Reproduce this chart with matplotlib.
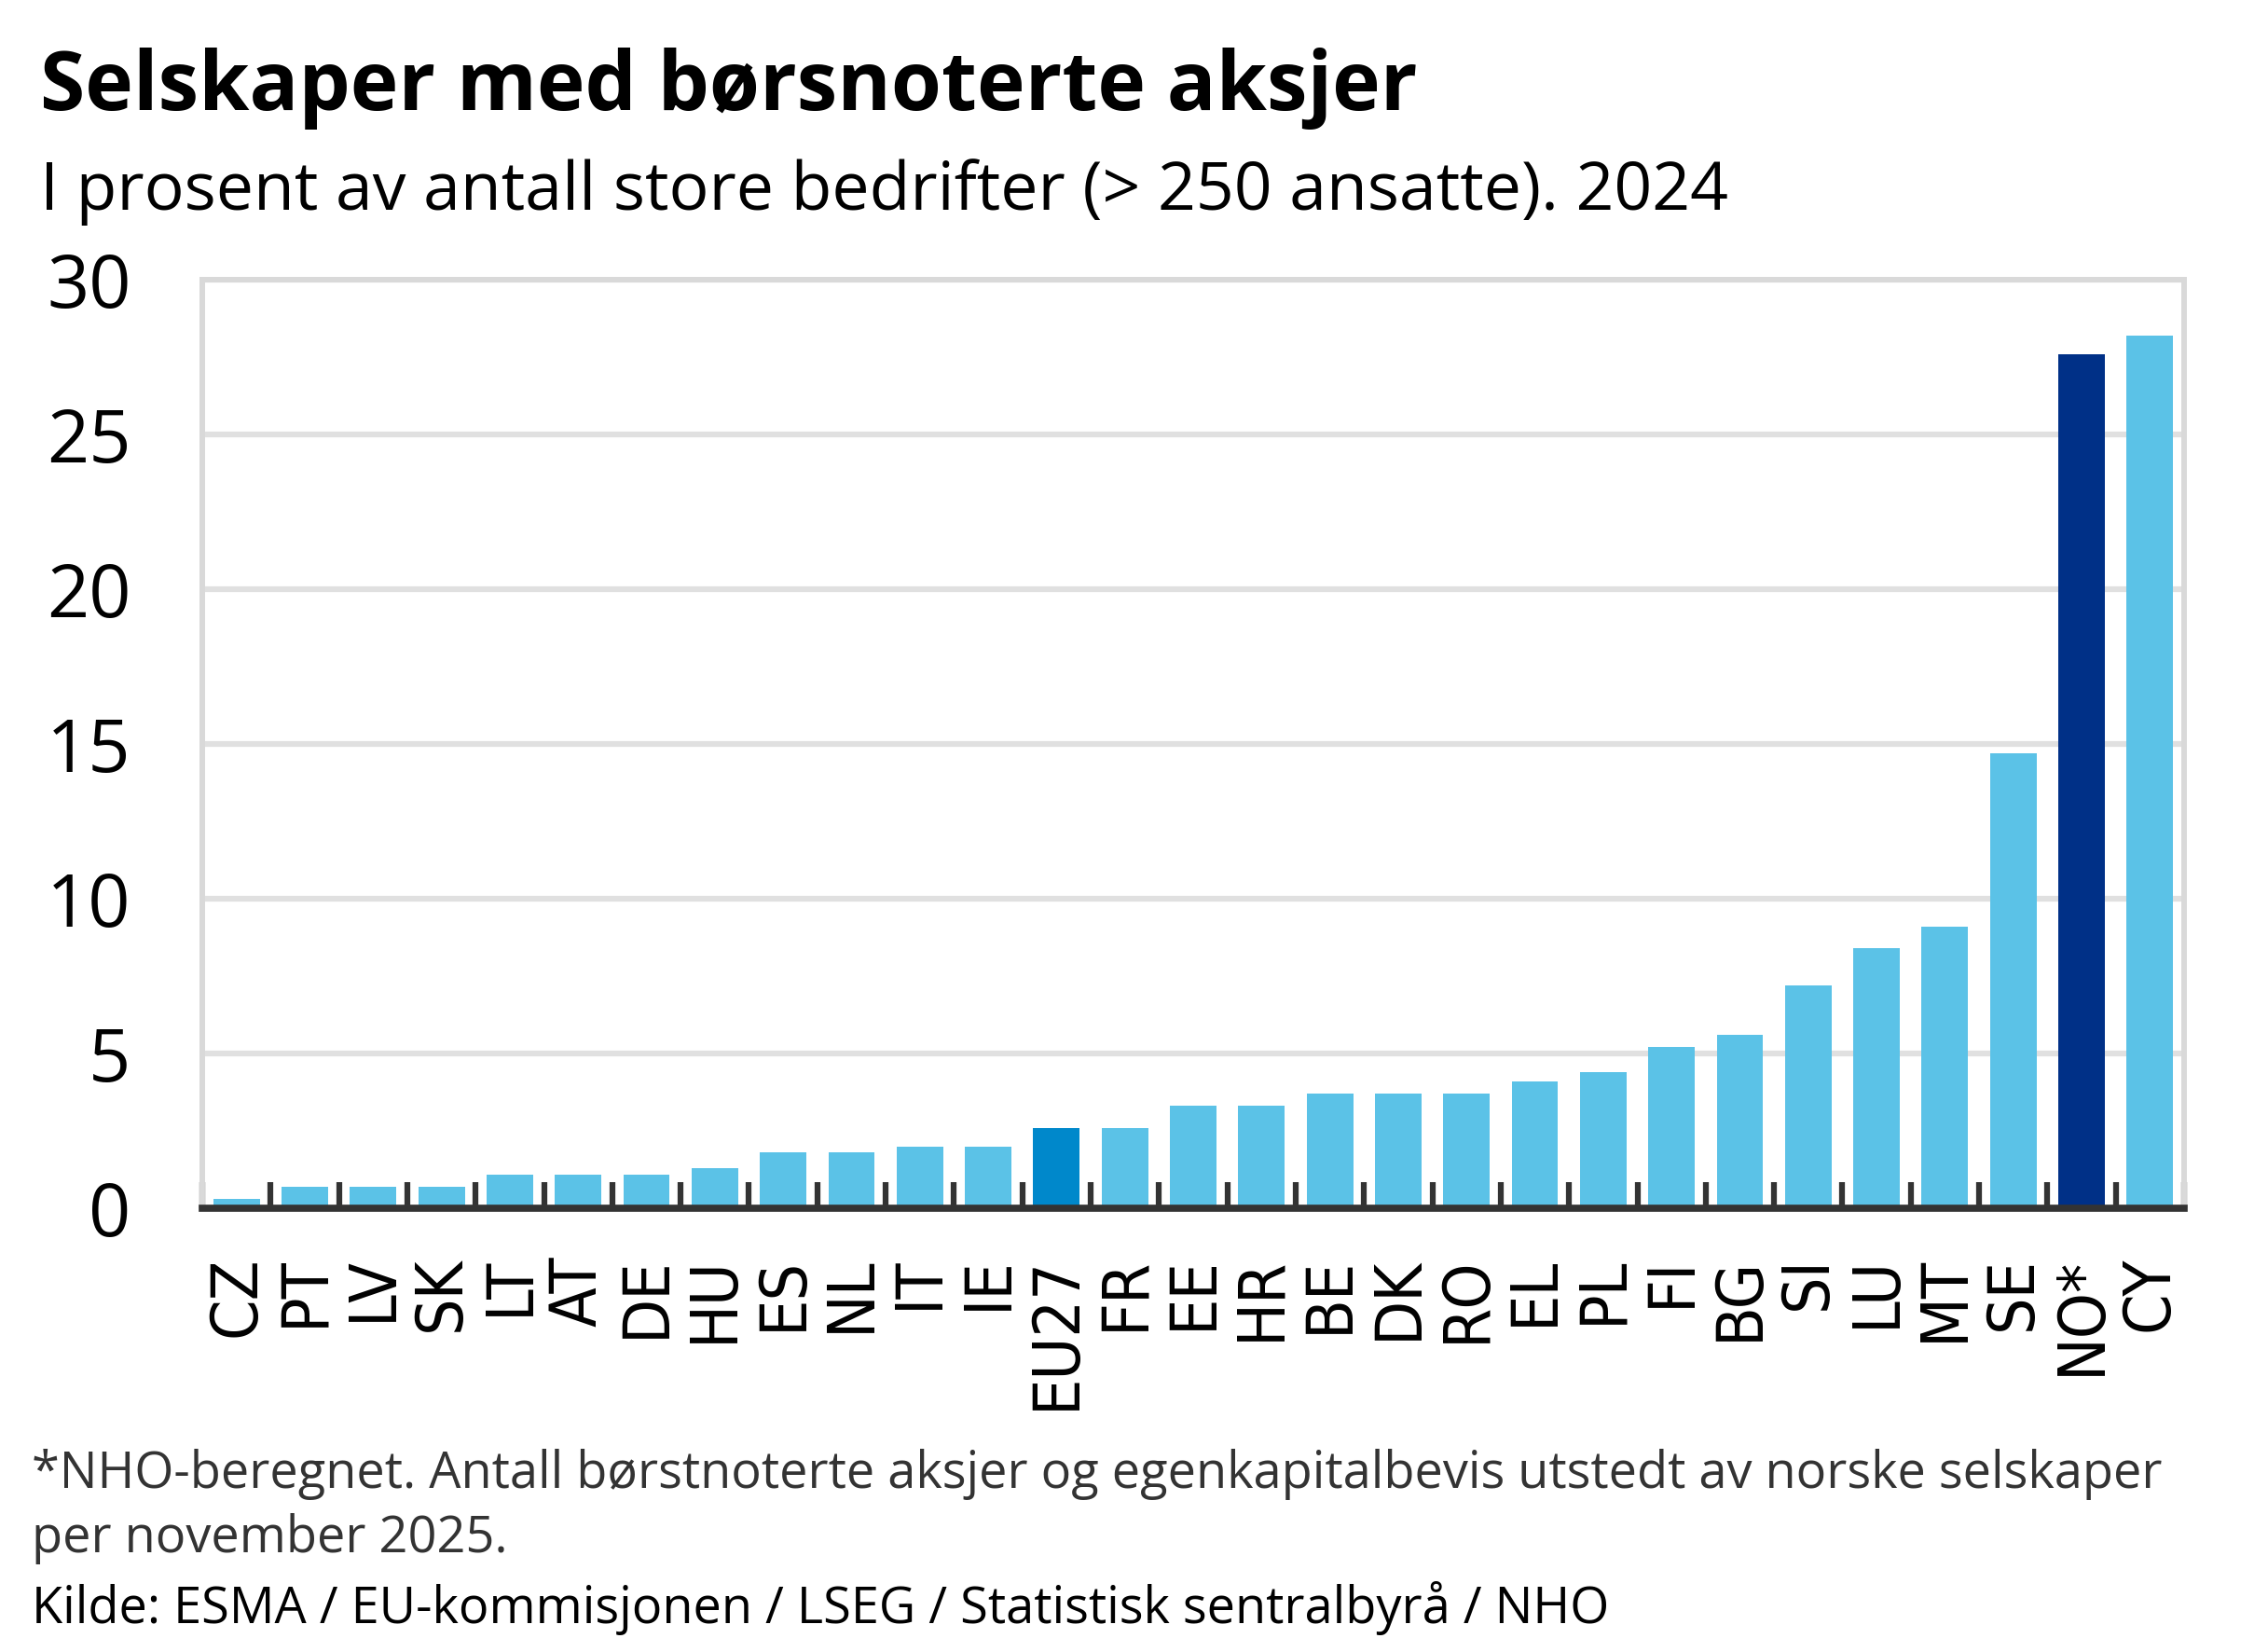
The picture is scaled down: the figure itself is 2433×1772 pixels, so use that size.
import matplotlib.pyplot as plt

# data
land = ["CZ", "PT", "LV", "SK", "LT", "AT", "DE", "HU", "ES", "NL", "IT", "IE",
        "EU27", "FR", "EE", "HR", "BE", "DK", "RO", "EL", "PL", "FI", "BG", "SI",
        "LU", "MT", "SE", "NO*", "CY"]
andel = [0.3, 0.7, 0.7, 0.7, 1.1, 1.1, 1.1, 1.3, 1.8, 1.8, 2.0, 2.0,
         2.6, 2.6, 3.3, 3.3, 3.7, 3.7, 3.7, 4.1, 4.4, 5.2, 5.6, 7.2,
         8.4, 9.1, 14.7, 27.6, 28.2]
yticks = [0, 5, 10, 15, 20, 25, 30]

tittel = "Selskaper med børsnoterte aksjer"
undertittel = "I prosent av antall store bedrifter (> 250 ansatte). 2024"
fotnote1 = "*NHO-beregnet. Antall børstnoterte aksjer og egenkapitalbevis utstedt av norske selskaper"
fotnote2 = "per november 2025."
kilde = "Kilde: ESMA / EU-kommisjonen / LSEG / Statistisk sentralbyrå / NHO"

lys = "#5BC2E7"
farger = {"EU27": "#0088CB", "NO*": "#003087"}
bar_colors = [farger.get(l, lys) for l in land]

plt.rcParams["font.family"] = ["Open Sans", "DejaVu Sans"]

fig = plt.figure(figsize=(24.33, 17.72), dpi=100)
ax = fig.add_axes([0.0892, 0.2686, 0.8738, 0.5621])

ax.bar(range(len(land)), andel, width=0.68, color=bar_colors, zorder=2)

ax.set_xlim(-0.5, len(land) - 0.5)
ax.set_ylim(0, 30)
ax.set_yticks(yticks)
ax.set_yticklabels([str(v) for v in yticks], fontsize=57)
ax.tick_params(axis="y", length=0, pad=55)
ax.yaxis.grid(True, color="#e0e0e0", linewidth=4.5)
ax.set_axisbelow(True)

# ticks between the bars, labels in the middle
ax.set_xticks([i - 0.5 for i in range(len(land) + 1)])
ax.set_xticklabels([])
ax.tick_params(axis="x", which="major", direction="in", length=20, width=4.5,
               color="#333333")
ax.set_xticks(range(len(land)), minor=True)
ax.set_xticklabels(land, minor=True, rotation=90, fontsize=50,
                   family="DejaVu Sans", fontstretch="condensed",
                   va="top", ha="center")
ax.tick_params(axis="x", which="minor", length=0, pad=37)

for s in ["left", "top", "right"]:
    ax.spines[s].set_color("#d9d9d9")
    ax.spines[s].set_linewidth(4.3)
ax.spines["bottom"].set_color("#333333")
ax.spines["bottom"].set_linewidth(5.5)
ax.spines["bottom"].set_zorder(5)

fig.text(0.0177, 0.9334, tittel, fontsize=63, fontweight="bold", va="baseline")
fig.text(0.0177, 0.873, undertittel, fontsize=51.5, va="baseline")
fig.text(0.014, 0.0993, fotnote1, fontsize=39, color="#333333", va="baseline")
fig.text(0.014, 0.0604, fotnote2, fontsize=39, color="#333333", va="baseline")
fig.text(0.014, 0.0175, kilde, fontsize=39, va="baseline")

fig.savefig("out.png", dpi=100)
